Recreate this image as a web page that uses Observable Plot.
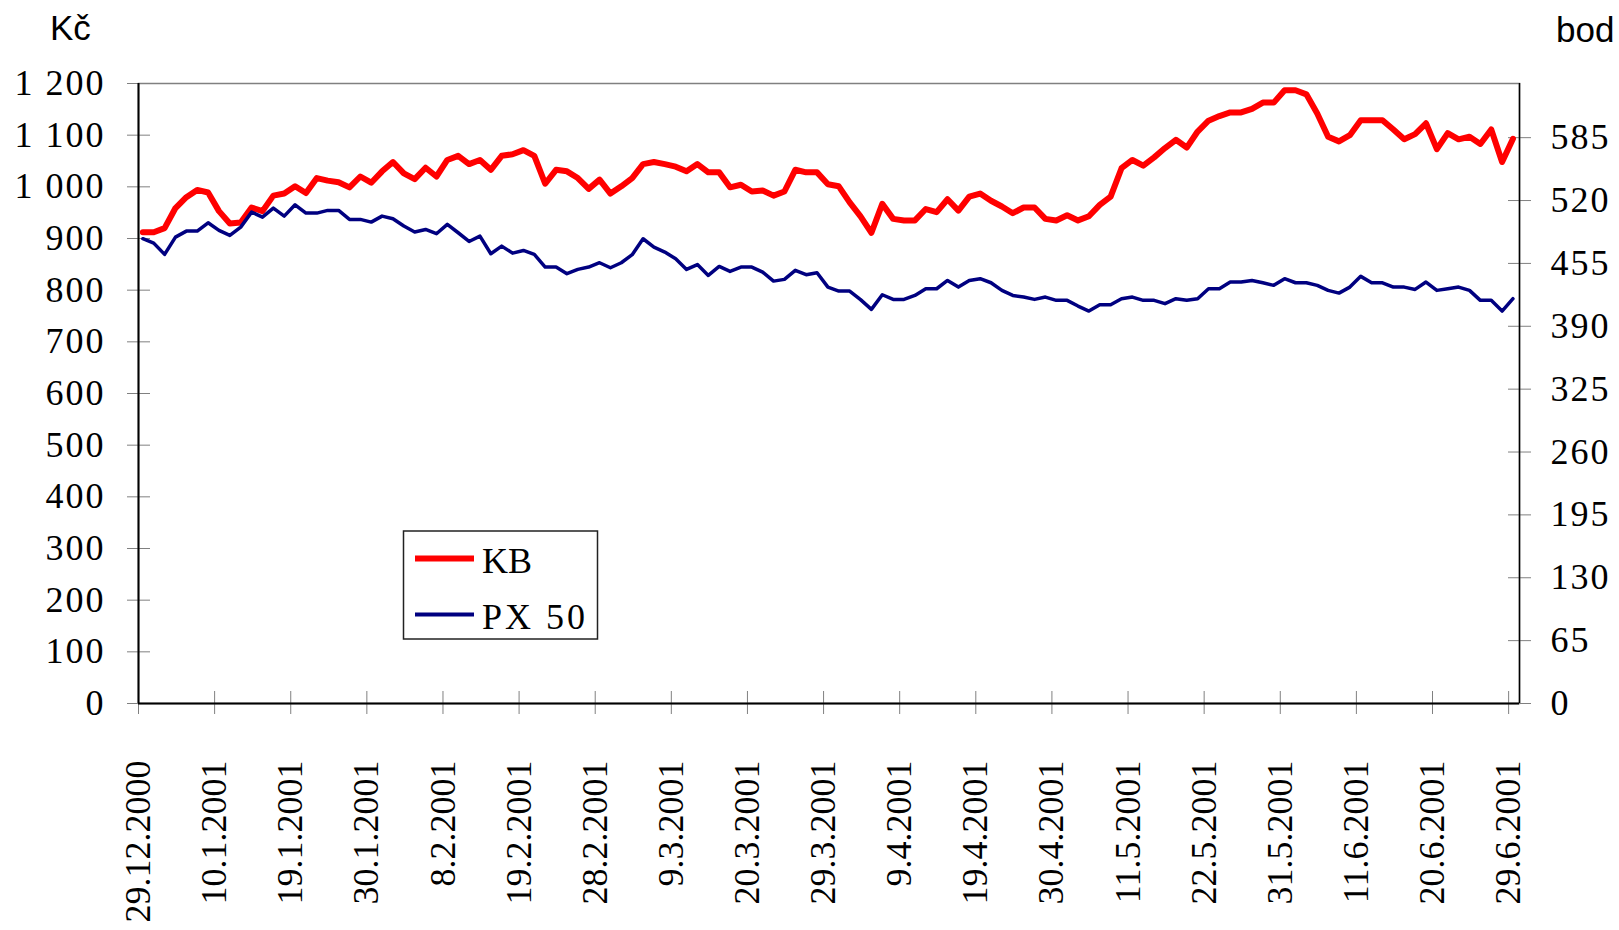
<!DOCTYPE html>
<html>
<head>
<meta charset="utf-8">
<script src="https://cdn.jsdelivr.net/npm/d3@7"></script>
<script src="https://cdn.jsdelivr.net/npm/@observablehq/plot@0.6"></script>
<style>
  html, body { margin: 0; padding: 0; background: #fff; }
  #wrap { position: relative; width: 1619px; height: 930px; overflow: hidden; }
  #wrap svg text { font-family: "Liberation Serif", "Times New Roman", serif; }
  #wrap svg text.sans { font-family: "Liberation Sans", Arial, sans-serif; }
</style>
</head>
<body>
<div id="wrap"></div>
<script>
// Tick labels of the category axis (every 7th trading day)
const tickLabels = ["29.12.2000","10.1.2001","19.1.2001","30.1.2001","8.2.2001","19.2.2001","28.2.2001",
  "9.3.2001","20.3.2001","29.3.2001","9.4.2001","19.4.2001","30.4.2001","11.5.2001","22.5.2001",
  "31.5.2001","11.6.2001","20.6.2001","29.6.2001"];

// KB share price (Kč), daily
const kb = [
  912,912,920,959,980,994,989,953,929,931,
  960,953,983,987,1001,988,1017,1012,1009,999,
  1020,1008,1030,1048,1026,1015,1037,1020,1052,1060,
  1044,1052,1033,1060,1063,1071,1060,1006,1033,1030,
  1017,996,1014,987,1001,1017,1044,1048,1044,1039,
  1030,1044,1028,1028,999,1004,991,993,983,991,
  1033,1028,1028,1005,1001,970,943,911,967,938,
  935,935,957,951,976,954,981,987,973,962,
  949,960,960,938,935,945,935,943,965,981,
  1036,1052,1041,1057,1075,1091,1076,1107,1128,1137,
  1144,1144,1151,1163,1163,1187,1187,1179,1142,1097,
  1088,1100,1129,1129,1129,1111,1092,1102,1123,1073,
  1104,1092,1097,1083,1111,1048,1093
];

// PX 50 index (bod), daily
const px50 = [
  480.5,476.0,464.3,482.2,488.4,488.4,497.0,489.1,483.9,492.5,
  508.0,502.8,512.2,503.9,515.6,507.0,507.0,509.8,509.8,500.5,
  500.5,497.7,503.9,501.2,493.6,487.5,490.1,485.7,495.3,486.7,
  477.7,483.2,465.0,472.9,465.6,468.4,464.3,451.2,451.2,444.4,
  448.8,451.2,455.7,450.5,455.7,464.0,480.5,471.8,466.7,459.8,
  448.8,453.8,442.6,451.9,446.7,451.2,451.2,446.0,436.7,438.5,
  447.8,443.3,445.4,430.5,426.4,426.4,417.5,407.5,422.6,417.8,
  417.8,421.9,428.8,428.8,437.4,430.5,437.4,439.2,435.0,427.1,
  421.9,420.2,417.8,420.2,416.8,416.8,410.9,405.7,412.3,412.3,
  418.5,420.2,416.8,416.8,413.4,418.5,416.8,418.5,428.8,428.8,
  435.7,435.7,437.4,435.0,432.3,439.2,435.0,435.0,432.3,427.1,
  424.3,430.5,441.6,435.0,435.0,430.5,430.5,428.1,435.7,427.1,
  428.8,430.5,427.1,416.8,416.8,405.7,418.5
];

const leftTicks = d3.range(0, 1201, 100);
const rightTicks = d3.range(0, 586, 65);
const leftMax = 1200;
const rightMax = 641;
const ratio = leftMax / rightMax;
const nDays = kb.length;
const tickIdx = tickLabels.map((_, k) => k * 7);

const rows = kb.map((v, i) => ({i, kb: v, px: px50[i]}));
const fmtLeft = d => d3.format(",")(d).replace(/,/g, " ");

const serif = "Liberation Serif, Times New Roman, serif";

const chart = Plot.plot({
  width: 1619,
  height: 930,
  marginLeft: 138,
  marginRight: 100,
  marginTop: 83,
  marginBottom: 227,
  style: {fontFamily: serif, fontSize: "36px", color: "#000", background: "#fff", overflow: "visible"},
  x: {type: "linear", domain: [0, nDays]},
  y: {domain: [0, leftMax]},
  marks: [
    Plot.frame({stroke: "#808080", strokeWidth: 1.5}),
    // left axis
    Plot.axisY({ticks: leftTicks, tickFormat: fmtLeft, tickSize: 11, tickPadding: 22, label: null, stroke: "#808080", fill: "#000"}),
    Plot.axisY({ticks: leftTicks, tickSize: -12, label: null, stroke: "#808080", fill: "none"}),
    // right axis (bod)
    Plot.axisY({anchor: "right", ticks: rightTicks.map(b => b * ratio), tickFormat: d => String(Math.round(d / ratio)),
      tickSize: 11, tickPadding: 20, label: null, stroke: "#808080", fill: "#000"}),
    Plot.axisY({anchor: "right", ticks: rightTicks.map(b => b * ratio), tickSize: -12, label: null, stroke: "#808080", fill: "none"}),
    // x axis
    Plot.axisX({ticks: tickIdx, tickFormat: d => tickLabels[Math.round(d / 7)], tickRotate: -90,
      tickSize: 11, tickPadding: 46, label: null, stroke: "#808080", fill: "#000"}),
    Plot.axisX({ticks: tickIdx, tickSize: -12, label: null, stroke: "#808080", fill: "none"}),
    // axis lines
    Plot.ruleY([0], {stroke: "#000", strokeWidth: 2}),
    Plot.ruleX([0], {stroke: "#000", strokeWidth: 2}),
    Plot.ruleX([nDays], {stroke: "#000", strokeWidth: 1.5}),
    // series
    Plot.lineY(rows, {x: d => d.i + 0.4, y: "kb", stroke: "#ff0000", strokeWidth: 6, strokeLinejoin: "round"}),
    Plot.lineY(rows, {x: d => d.i + 0.4, y: d => d.px * ratio, stroke: "#000080", strokeWidth: 3.5, strokeLinejoin: "round"})
  ]
});

document.getElementById("wrap").appendChild(chart);

const svg = d3.select(chart);
svg.selectAll('[aria-label="y-axis tick label"] text').style("letter-spacing", "2px");

// axis unit titles
svg.append("text").attr("class", "sans").attr("x", 50).attr("y", 40).attr("text-anchor", "start")
  .attr("font-size", 35).attr("fill", "#000").text("Kč");
svg.append("text").attr("class", "sans").attr("x", 1556).attr("y", 42).attr("text-anchor", "start")
  .attr("font-size", 35).attr("fill", "#000").text("bod");

// legend
const lg = svg.append("g");
lg.append("rect").attr("x", 403.5).attr("y", 531).attr("width", 194).attr("height", 108)
  .attr("fill", "#fff").attr("stroke", "#222").attr("stroke-width", 1.5);
const legendItems = [
  {label: "KB", color: "#ff0000", w: 6},
  {label: "PX 50", color: "#000080", w: 4}
];
legendItems.forEach((it, k) => {
  const cy = 558.5 + k * 56;
  lg.append("line").attr("x1", 415).attr("x2", 474).attr("y1", cy).attr("y2", cy)
    .attr("stroke", it.color).attr("stroke-width", it.w);
  lg.append("text").attr("x", 482).attr("y", cy + 14.5).attr("text-anchor", "start").attr("font-size", 36)
    .attr("letter-spacing", k === 1 ? "3px" : "0px").attr("fill", "#000").text(it.label);
});
</script>
</body>
</html>
